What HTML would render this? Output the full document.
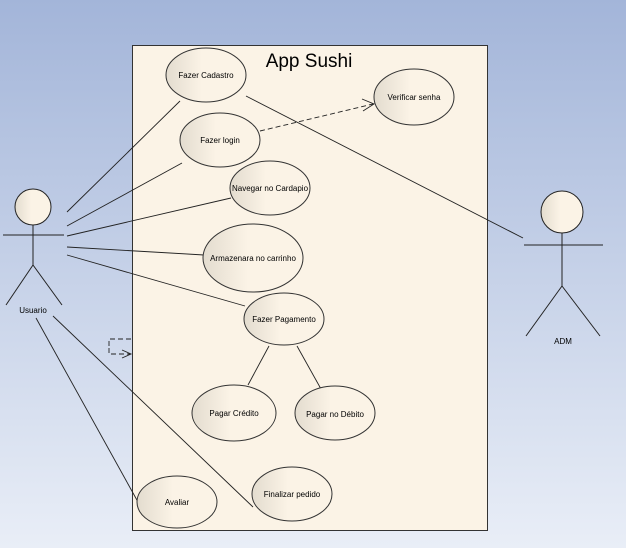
<!DOCTYPE html>
<html><head><meta charset="utf-8"><style>
html,body{margin:0;padding:0;width:626px;height:548px;overflow:hidden}
svg{display:block}
text{font-family:"Liberation Sans",sans-serif;font-size:8px;fill:#000}
</style></head><body>
<svg width="626" height="548" viewBox="0 0 626 548" xmlns="http://www.w3.org/2000/svg">
<defs>
<linearGradient id="bg" x1="0" y1="0" x2="0" y2="1">
<stop offset="0" stop-color="#a3b5d9"/><stop offset="1" stop-color="#e9eef7"/></linearGradient>
<linearGradient id="el" x1="0" y1="0" x2="1" y2="0">
<stop offset="0" stop-color="#e3dccf"/><stop offset="0.45" stop-color="#fbf3e6"/><stop offset="1" stop-color="#fbf3e6"/></linearGradient>
</defs>
<rect width="626" height="548" fill="url(#bg)"/>
<rect x="132.5" y="45.5" width="355" height="485" fill="#fbf3e6" stroke="#333" stroke-width="1"/>
<text x="309" y="67" text-anchor="middle" style="font-size:19px">App Sushi</text>
<g stroke="#222" stroke-width="0.9" fill="none">
<line x1="67" y1="212" x2="180" y2="101"/>
<line x1="67" y1="226" x2="182" y2="163"/>
<line x1="67" y1="236" x2="231" y2="198"/>
<line x1="67" y1="247" x2="204" y2="255"/>
<line x1="67" y1="255" x2="245" y2="306"/>
<line x1="36" y1="318" x2="138" y2="502"/>
<line x1="53" y1="316" x2="253" y2="507"/>
<line x1="246" y1="96" x2="523" y2="238"/>
<line x1="269" y1="346" x2="248" y2="385"/>
<line x1="297" y1="346" x2="321" y2="389"/>
<line x1="260" y1="131" x2="373" y2="104" stroke-dasharray="5,3"/>
<polyline points="362,99 374,104 363,111"/>
<polyline points="109,346 109,339 131,339" stroke-dasharray="5,3"/>
<polyline points="109,348 109,354 131,354" stroke-dasharray="5,3"/>
<polyline points="122,350 131,354 122,358"/>
</g>
<g stroke="#333" stroke-width="1" fill="url(#el)">
<ellipse cx="206" cy="75" rx="40" ry="27"/>
<ellipse cx="220" cy="140" rx="40" ry="27"/>
<ellipse cx="414" cy="97" rx="40" ry="28"/>
<ellipse cx="270" cy="188" rx="40" ry="27"/>
<ellipse cx="253" cy="258" rx="50" ry="34"/>
<ellipse cx="284" cy="319" rx="40" ry="26"/>
<ellipse cx="234" cy="413" rx="42" ry="28"/>
<ellipse cx="335" cy="413" rx="40" ry="27"/>
<ellipse cx="177" cy="502" rx="40" ry="26"/>
<ellipse cx="292" cy="494" rx="40" ry="27"/>
</g>
<g text-anchor="middle">
<text x="206" y="78">Fazer Cadastro</text>
<text x="220" y="143">Fazer login</text>
<text x="414" y="100">Verificar senha</text>
<text x="270" y="191">Navegar no Cardapio</text>
<text x="253" y="261">Armazenara no carrinho</text>
<text x="284" y="322">Fazer Pagamento</text>
<text x="234" y="416">Pagar Crédito</text>
<text x="335" y="417">Pagar no Débito</text>
<text x="177" y="505">Avaliar</text>
<text x="292" y="497">Finalizar pedido</text>
<text x="33" y="313">Usuario</text>
<text x="563" y="344">ADM</text>
</g>
<g stroke="#222" stroke-width="1" fill="none">
<circle cx="33" cy="207" r="18" fill="url(#el)"/>
<line x1="33" y1="225" x2="33" y2="265"/>
<line x1="3" y1="235" x2="64" y2="235"/>
<line x1="33" y1="265" x2="6" y2="305"/>
<line x1="33" y1="265" x2="62" y2="305"/>
<circle cx="562" cy="212" r="21" fill="url(#el)"/>
<line x1="562" y1="233" x2="562" y2="286"/>
<line x1="524" y1="245" x2="603" y2="245"/>
<line x1="562" y1="286" x2="526" y2="336"/>
<line x1="562" y1="286" x2="600" y2="336"/>
</g>
</svg>
</body></html>
